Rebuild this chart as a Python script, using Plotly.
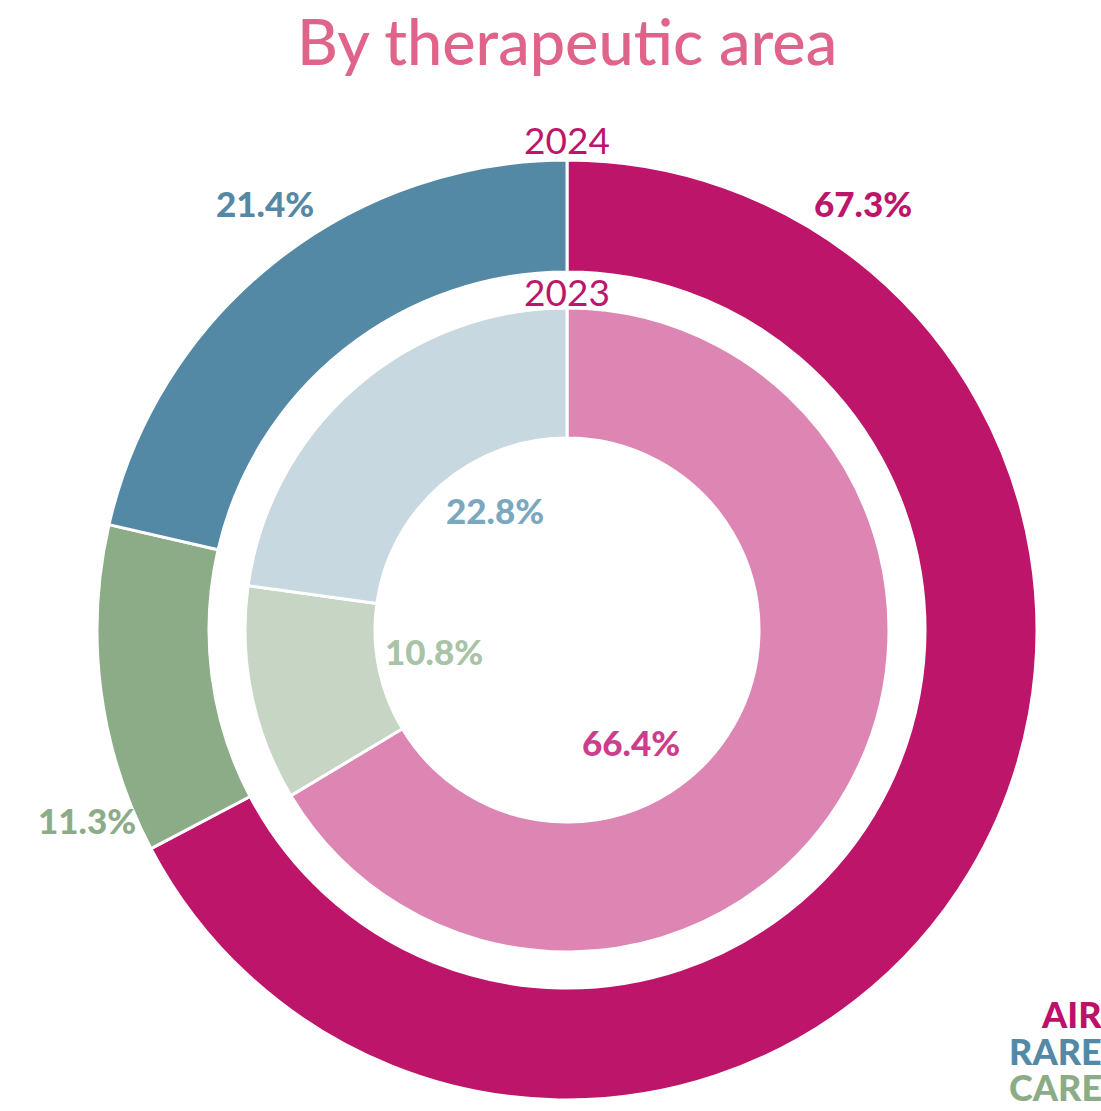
import plotly.graph_objects as go

areas = ["AIR", "CARE", "RARE"]
share_2024 = [67.3, 11.3, 21.4]
share_2023 = [66.4, 10.8, 22.8]
years = ["2024", "2023"]

colors_2024 = ["#BC156A", "#8CAC88", "#5389A5"]
colors_2023 = ["#DD86B3", "#C6D5C4", "#C8D8E1"]
label_colors_2023 = ["#CC3E8C", "#A8C3A5", "#7BA8BE"]

W, H = 1101, 1111
FONT = "Lato"


def px_x(x):
    return x / W


def px_y(y):
    return 1 - y / H


fig = go.Figure()

# outer ring: 2024
fig.add_trace(
    go.Pie(
        labels=areas,
        values=share_2024,
        sort=False,
        direction="clockwise",
        rotation=0,
        hole=358 / 470,
        marker=dict(colors=colors_2024, line=dict(color="white", width=3)),
        textinfo="none",
        hoverinfo="label+value",
        domain=dict(x=[px_x(97), px_x(1037)], y=[px_y(1100), px_y(160)]),
    )
)

# inner ring: 2023
fig.add_trace(
    go.Pie(
        labels=areas,
        values=share_2023,
        sort=False,
        direction="clockwise",
        rotation=0,
        hole=192 / 322,
        marker=dict(colors=colors_2023, line=dict(color="white", width=3)),
        textinfo="none",
        hoverinfo="label+value",
        domain=dict(x=[px_x(245), px_x(889)], y=[px_y(952), px_y(308)]),
    )
)

annotations = []


def add_text(x, y, text, color, size, weight=900, xanchor="center"):
    annotations.append(
        dict(
            x=px_x(x),
            y=px_y(y),
            xref="paper",
            yref="paper",
            text=text,
            showarrow=False,
            xanchor=xanchor,
            yanchor="middle",
            font=dict(family=FONT, size=size, color=color, weight=weight),
        )
    )


# outer labels
pos_2024 = [(863, 203), (87, 820), (265, 203)]
for (x, y), v, c in zip(pos_2024, share_2024, colors_2024):
    add_text(x, y, f"{v:.1f}%", c, 35)

# inner labels
pos_2023 = [(631, 742), (434, 651), (495, 510)]
for (x, y), v, c in zip(pos_2023, share_2023, label_colors_2023):
    add_text(x, y, f"{v:.1f}%", c, 35)

# year labels
add_text(567, 139, years[0], "#BC156A", 37, weight=400)
add_text(567, 291, years[1], "#BC156A", 37, weight=400)

# legend
legend_y = [1014, 1051, 1087]
legend_colors = ["#BE0F6A", "#5389A5", "#8CAC88"]
for name, y, c in zip(["AIR", "RARE", "CARE"], legend_y, legend_colors):
    add_text(1104, y, name, c, 36, xanchor="right")

# title
add_text(567, 40, "By therapeutic area", "#E0648A", 63, weight=500)

fig.update_layout(
    width=W,
    height=H,
    margin=dict(l=0, r=0, t=0, b=0),
    paper_bgcolor="white",
    plot_bgcolor="white",
    showlegend=False,
    annotations=annotations,
)

fig.write_html(
    "out.html",
    config={"displayModeBar": False},
    post_script="document.body.style.margin='0';document.body.style.overflow='hidden';",
)
